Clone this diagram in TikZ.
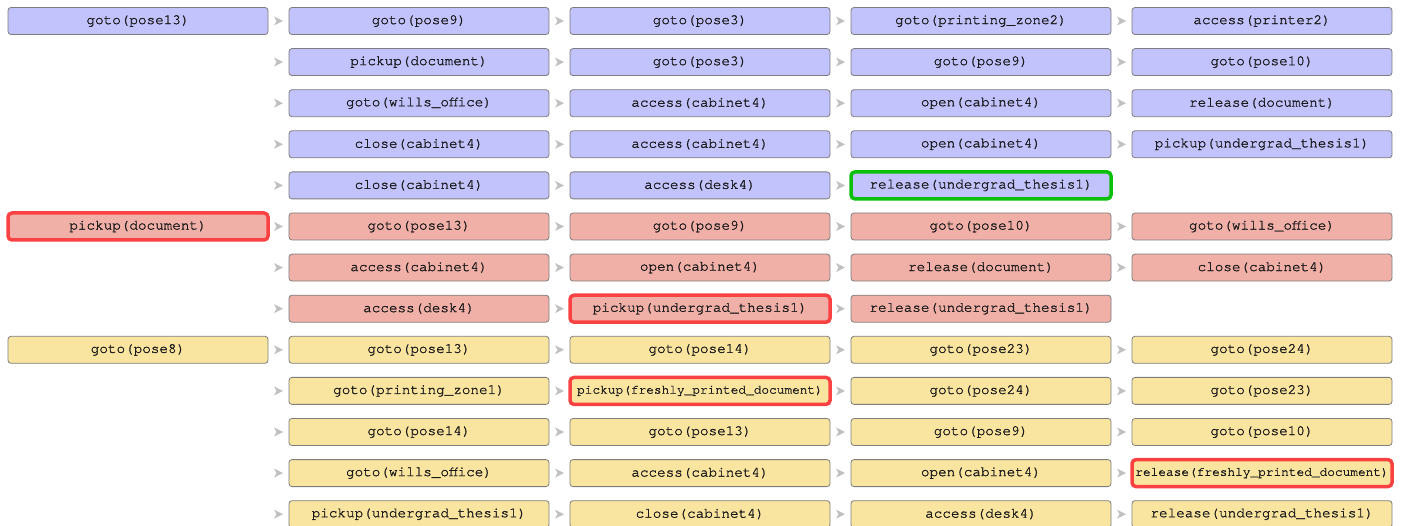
\documentclass[tikz,border=0pt]{standalone}
\usepackage{fontspec}
\setmonofont[FakeBold=1.3]{texgyrecursor-regular.otf}
\usetikzlibrary{positioning}
\definecolor{planblue}{RGB}{194,194,252}
\definecolor{planred}{RGB}{240,176,168}
\definecolor{planyellow}{RGB}{250,229,160}
\definecolor{edgegray}{RGB}{125,125,125}
\definecolor{tipgray}{RGB}{192,192,192}
\definecolor{flagred}{RGB}{250,66,66}
\definecolor{goalgreen}{RGB}{10,192,10}

\tikzset{
  box/.style={draw=edgegray, line width=0.8pt, rounded corners=3pt,
    minimum width=260pt, minimum height=27pt, inner sep=0pt,
    text=black!90, font=\ttfamily\fontsize{14.3}{16}\selectfont},
  bluebox/.style={box, fill=planblue},
  redbox/.style={box, fill=planred},
  yellowbox/.style={box, fill=planyellow},
  flag/.style={draw=flagred, line width=3.5pt, rounded corners=4pt},
  goal/.style={draw=goalgreen, line width=3.5pt, rounded corners=4pt},
  longlabel/.style={font=\ttfamily\fontsize{12.8}{14}\selectfont},
  redflag/.style={redbox, flag},
  bluegoal/.style={bluebox, goal},
  yellowflag/.style={yellowbox, flag, longlabel}
}

\begin{document}
\begin{tikzpicture}[x=1pt, y=-1pt]

\useasboundingbox (0,0) rectangle (1406,526);
\clip (0,0) rectangle (1406,526);

% one node per step: row/column/style/text
\foreach \r/\c/\s/\t in {
  0/0/bluebox/goto(pose13), 0/1/bluebox/goto(pose9), 0/2/bluebox/goto(pose3),
  0/3/bluebox/goto(printing\_zone2), 0/4/bluebox/access(printer2),
  1/1/bluebox/pickup(document), 1/2/bluebox/goto(pose3), 1/3/bluebox/goto(pose9),
  1/4/bluebox/goto(pose10),
  2/1/bluebox/goto(wills\_office), 2/2/bluebox/access(cabinet4),
  2/3/bluebox/open(cabinet4), 2/4/bluebox/release(document),
  3/1/bluebox/close(cabinet4), 3/2/bluebox/access(cabinet4),
  3/3/bluebox/open(cabinet4), 3/4/bluebox/pickup(undergrad\_thesis1),
  4/1/bluebox/close(cabinet4), 4/2/bluebox/access(desk4),
  4/3/bluegoal/release(undergrad\_thesis1),
  5/0/redflag/pickup(document), 5/1/redbox/goto(pose13), 5/2/redbox/goto(pose9),
  5/3/redbox/goto(pose10), 5/4/redbox/goto(wills\_office),
  6/1/redbox/access(cabinet4), 6/2/redbox/open(cabinet4),
  6/3/redbox/release(document), 6/4/redbox/close(cabinet4),
  7/1/redbox/access(desk4), 7/2/redflag/pickup(undergrad\_thesis1),
  7/3/redbox/release(undergrad\_thesis1),
  8/0/yellowbox/goto(pose8), 8/1/yellowbox/goto(pose13), 8/2/yellowbox/goto(pose14),
  8/3/yellowbox/goto(pose23), 8/4/yellowbox/goto(pose24),
  9/1/yellowbox/goto(printing\_zone1),
  9/2/yellowflag/pickup(freshly\_printed\_document),
  9/3/yellowbox/goto(pose24), 9/4/yellowbox/goto(pose23),
  10/1/yellowbox/goto(pose14), 10/2/yellowbox/goto(pose13),
  10/3/yellowbox/goto(pose9), 10/4/yellowbox/goto(pose10),
  11/1/yellowbox/goto(wills\_office), 11/2/yellowbox/access(cabinet4),
  11/3/yellowbox/open(cabinet4),
  11/4/yellowflag/release(freshly\_printed\_document),
  12/1/yellowbox/pickup(undergrad\_thesis1), 12/2/yellowbox/close(cabinet4),
  12/3/yellowbox/access(desk4), 12/4/yellowbox/release(undergrad\_thesis1)} {
  \node[\s] (n\r-\c) at (138+281*\c, 21+41.1*\r) {\t};
  % little grey pointer in front of every step but the first column
  \ifnum\c>0
    \fill[tipgray] ([xshift=-145pt, yshift=4.5pt]n\r-\c.center)
      -- ([xshift=-136pt]n\r-\c.center)
      -- ([xshift=-145pt, yshift=-4.5pt]n\r-\c.center)
      -- ([xshift=-142.5pt]n\r-\c.center) -- cycle;
  \fi
}

\end{tikzpicture}
\end{document}
